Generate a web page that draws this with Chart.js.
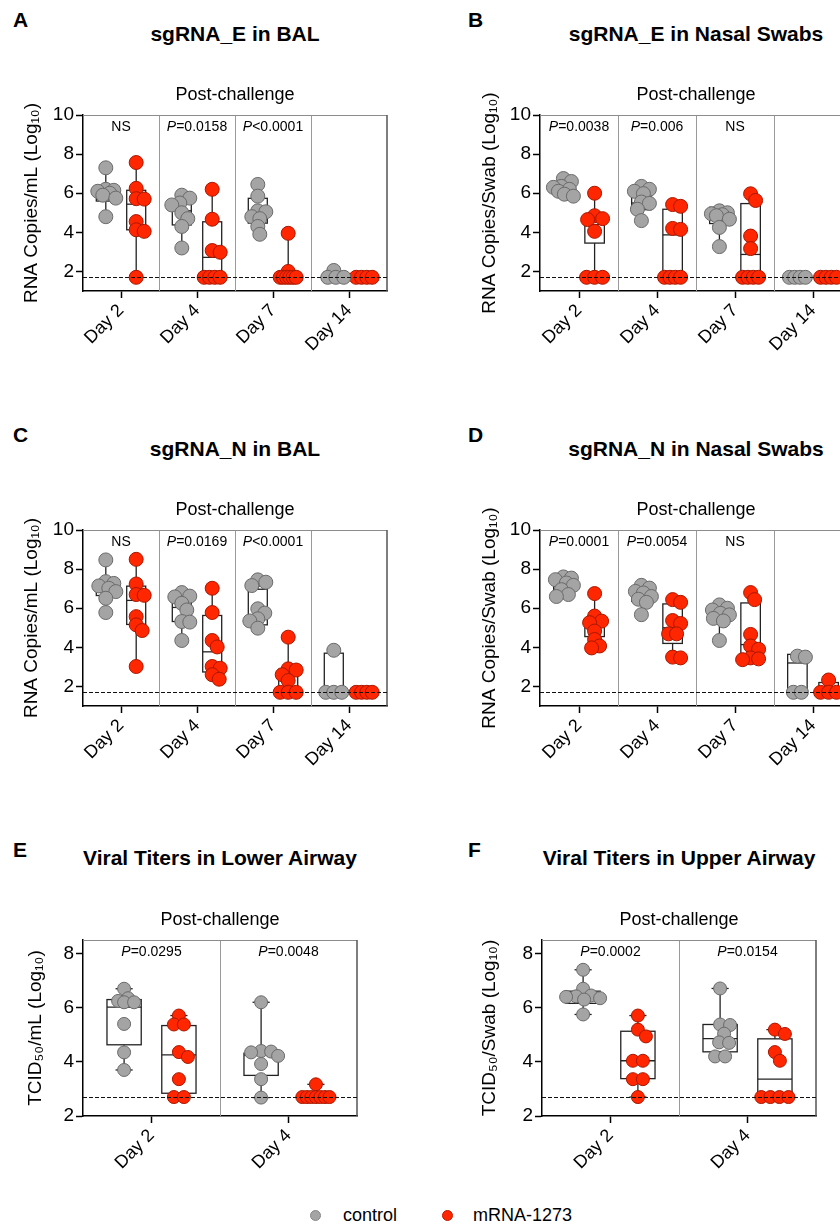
<!DOCTYPE html>
<html>
<head>
<meta charset="utf-8">
<script src="https://cdn.jsdelivr.net/npm/chart.js@4.4.1/dist/chart.umd.min.js"></script>
<style>
html, body { margin: 0; padding: 0; background: #fff; overflow: hidden; width: 840px; height: 1225px; }
body { position: relative; font-family: "Liberation Sans", Arial, sans-serif; color: #000; }
.abs { position: absolute; }
.letter { font-weight: bold; font-size: 21px; line-height: 24px; }
.title { font-weight: bold; font-size: 21px; line-height: 24px; text-align: center; white-space: nowrap; }
canvas { position: absolute; }
.dot { position: absolute; width: 10px; height: 10px; border-radius: 50%; }
.legtxt { position: absolute; font-size: 18px; line-height: 22px; white-space: nowrap; }
</style>
</head>
<body>
<div class="abs letter" style="left:13px;top:8px">A</div>
<div class="abs title" style="left:83px;width:304px;top:22px">sgRNA_E in BAL</div>
<canvas id="chartA" width="420" height="310" style="left:0;top:60px"></canvas>

<div class="abs letter" style="left:468px;top:8px">B</div>
<div class="abs title" style="left:540px;width:312px;top:22px">sgRNA_E in Nasal Swabs</div>
<canvas id="chartB" width="440" height="310" style="left:420px;top:60px"></canvas>

<div class="abs letter" style="left:13px;top:423px">C</div>
<div class="abs title" style="left:83px;width:304px;top:437px">sgRNA_N in BAL</div>
<canvas id="chartC" width="420" height="310" style="left:0;top:475px"></canvas>

<div class="abs letter" style="left:468px;top:423px">D</div>
<div class="abs title" style="left:540px;width:312px;top:437px">sgRNA_N in Nasal Swabs</div>
<canvas id="chartD" width="440" height="310" style="left:420px;top:475px"></canvas>

<div class="abs letter" style="left:13px;top:838px">E</div>
<div class="abs title" style="left:83px;width:274px;top:846px">Viral Titers in Lower Airway</div>
<canvas id="chartE" width="420" height="300" style="left:0;top:885px"></canvas>

<div class="abs letter" style="left:468px;top:838px">F</div>
<div class="abs title" style="left:542px;width:274px;top:846px">Viral Titers in Upper Airway</div>
<canvas id="chartF" width="420" height="300" style="left:420px;top:885px"></canvas>

<div class="dot" style="left:310px;top:1210px;background:#a4a4a4;border:1px solid #888;width:9px;height:9px"></div>
<div class="legtxt" style="left:343px;top:1204px">control</div>
<div class="dot" style="left:442px;top:1210px;background:#ff2600;border:1px solid #c01a00;width:9px;height:9px"></div>
<div class="legtxt" style="left:473px;top:1204px">mRNA-1273</div>

<script>
var FONT = '"Liberation Sans", Arial, sans-serif';
Chart.defaults.font.family = FONT;

var daysAll = ['Day 2', 'Day 4', 'Day 7', 'Day 14'];
var daysEarly = ['Day 2', 'Day 4'];
var ticksRna = [2, 4, 6, 8, 10];
var ticksTcid = [2, 4, 6, 8];
var lodRna = 1.7;
var lodTcid = 2.7;

// A - sgRNA_E in BAL
var balEControl = [
    [7.3, 6.2, 6.15, 6.1, 6.0, 5.9, 5.75, 4.8],
    [5.9, 5.75, 5.5, 5.4, 5.0, 4.7, 4.3, 3.2],
    [6.45, 5.85, 5.1, 5.05, 4.8, 4.7, 4.3, 3.9],
    [2.05, 1.7, 1.7, 1.7]
];
var balEMrna = [
    [7.57, 6.25, 5.72, 5.7, 4.55, 4.13, 4.05, 1.7],
    [6.2, 4.67, 3.07, 2.98, 1.7, 1.7, 1.7, 1.7],
    [3.95, 2.0, 1.7, 1.7, 1.7, 1.7, 1.7, 1.7],
    [1.7, 1.7, 1.7, 1.7]
];
// box = [q1, median, q3]
var balEControlBox = [[5.6, 6.05, 6.37], [4.38, 5.1, 5.6], [4.47, 4.9, 5.74], [1.7, 1.7, 1.97]];
var balEMrnaBox = [[4.13, 5.44, 6.15], [1.7, 2.72, 4.54], [1.7, 1.7, 1.88], [1.7, 1.7, 1.7]];
var balEP = ['NS', 'P=0.0158', 'P<0.0001', ''];

// B - sgRNA_E in nasal swabs
var nasEControl = [
    [6.75, 6.6, 6.35, 6.3, 6.2, 6.1, 5.95, 5.85],
    [6.35, 6.2, 6.1, 5.98, 5.55, 5.48, 5.18, 4.6],
    [5.1, 5.0, 4.95, 4.9, 4.85, 4.67, 4.25, 3.27],
    [1.7, 1.7, 1.7, 1.7]
];
var nasEMrna = [
    [6.0, 4.85, 4.7, 4.65, 4.05, 1.7, 1.7, 1.7],
    [5.42, 5.33, 4.2, 4.15, 1.7, 1.7, 1.7, 1.7],
    [5.97, 5.63, 3.81, 3.17, 1.7, 1.7, 1.7, 1.7],
    [1.7, 1.7, 1.7, 1.7]
];
var nasEControlBox = [[6.1, 6.25, 6.42], [5.16, 5.5, 6.0], [4.45, 4.85, 5.28], [1.7, 1.7, 1.7]];
var nasEMrnaBox = [[3.45, 4.4, 4.75], [1.7, 3.87, 5.18], [1.7, 2.87, 5.47], [1.7, 1.7, 1.7]];
var nasEP = ['P=0.0038', 'P=0.006', 'NS', ''];

// C - sgRNA_N in BAL
var balNControl = [
    [8.47, 7.36, 7.27, 7.14, 7.02, 6.85, 6.51, 5.78],
    [6.8, 6.62, 6.58, 6.25, 5.91, 5.32, 5.29, 4.35],
    [7.45, 7.33, 7.16, 5.97, 5.75, 5.46, 5.35, 4.98],
    [3.85, 1.7, 1.7, 1.7]
];
var balNMrna = [
    [8.5, 7.24, 6.7, 6.66, 5.57, 5.15, 4.86, 3.02],
    [7.02, 5.78, 4.35, 4.02, 3.02, 2.93, 2.6, 2.37],
    [4.52, 2.9, 2.84, 2.6, 2.3, 1.7, 1.7, 1.7],
    [1.7, 1.7, 1.7, 1.7]
];
var balNControlBox = [[6.65, 7.0, 7.28], [5.32, 6.04, 6.56], [5.15, 5.6, 6.97], [1.7, 1.7, 3.7]];
var balNMrnaBox = [[5.17, 6.4, 7.13], [2.74, 3.77, 5.63], [1.72, 2.55, 2.88], [1.7, 1.7, 1.7]];
var balNP = ['NS', 'P=0.0169', 'P<0.0001', ''];

// D - sgRNA_N in nasal swabs
var nasNControl = [
    [7.6, 7.54, 7.46, 7.29, 7.17, 6.95, 6.7, 6.6],
    [7.17, 7.03, 6.86, 6.78, 6.6, 6.46, 6.3, 5.67],
    [6.17, 6.0, 5.91, 5.74, 5.66, 5.48, 5.35, 4.35],
    [3.55, 3.5, 1.7, 1.7]
];
var nasNMrna = [
    [6.75, 5.6, 5.34, 5.26, 4.83, 4.4, 4.07, 3.97],
    [6.44, 6.3, 5.37, 5.22, 4.69, 4.69, 3.5, 3.46],
    [6.8, 6.44, 4.66, 4.07, 3.9, 3.46, 3.41, 3.37],
    [2.33, 1.7, 1.7, 1.7]
];
var nasNControlBox = [[6.92, 7.17, 7.4], [6.35, 6.64, 6.95], [5.42, 5.82, 5.95], [1.7, 3.2, 3.64]];
var nasNMrnaBox = [[4.55, 5.2, 5.47], [4.2, 5.0, 6.22], [3.64, 4.14, 6.27], [1.7, 1.7, 2.2]];
var nasNP = ['P=0.0001', 'P=0.0054', 'NS', ''];

// E - TCID50 lower airway
var lowerControl = [
    [6.7, 6.35, 6.25, 6.2, 6.2, 5.4, 4.35, 3.7],
    [6.2, 4.4, 4.38, 4.35, 4.22, 3.92, 3.36, 2.68]
];
var lowerMrna = [
    [5.71, 5.38, 5.38, 4.36, 4.18, 3.36, 2.7, 2.7],
    [3.17, 2.7, 2.7, 2.7, 2.7, 2.7, 2.7, 2.7]
];
var lowerControlBox = [[4.63, 6.02, 6.3], [3.5, 4.26, 4.32]];
var lowerMrnaBox = [[2.84, 4.26, 5.34], [2.7, 2.7, 2.7]];
var lowerP = ['P=0.0295', 'P=0.0048'];

// F - TCID50 upper airway
var upperControl = [
    [7.4, 6.7, 6.45, 6.42, 6.4, 6.35, 6.3, 5.75],
    [6.71, 5.38, 5.36, 5.04, 4.72, 4.7, 4.2, 4.2]
];
var upperMrna = [
    [5.71, 5.19, 4.94, 4.04, 4.04, 3.36, 3.36, 2.7],
    [5.19, 5.03, 4.36, 4.04, 2.7, 2.7, 2.7, 2.7]
];
var upperControlBox = [[6.16, 6.37, 6.61], [4.37, 4.86, 5.38]];
var upperMrnaBox = [[3.38, 4.04, 5.13], [2.7, 3.36, 4.85]];
var upperP = ['P=0.0002', 'P=0.0154'];

// spreads tied / close values sideways (pixel offsets), kept within +-half px
function swarm(values, pxY, minDist, half) {
    var order = values.map(function (v, i) { return i; })
        .sort(function (a, b) { return values[b] - values[a]; });
    var placed = [];
    var offs = new Array(values.length);
    var k = 0;
    while (k < order.length) {
        var v = values[order[k]];
        var grp = [];
        while (k < order.length && values[order[k]] === v) { grp.push(order[k]); k++; }
        var y = v * pxY;
        var m = grp.length;
        var d = m > 1 ? Math.min(minDist, 1.6 * half / (m - 1)) : 0;
        var rowHalf = (m - 1) / 2 * d;
        var best = 0, bestScore = -1;
        for (var s = 0; s < 60; s++) {
            var cand = (s % 2 ? 1 : -1) * Math.ceil(s / 2);
            if (Math.abs(cand) + rowHalf > half) continue;
            var score = Infinity;
            for (var j = 0; j < m; j++) {
                var x = cand + (j - (m - 1) / 2) * d;
                placed.forEach(function (p) {
                    score = Math.min(score, Math.hypot(p.x - x, p.y - y));
                });
            }
            if (score >= minDist) { best = cand; break; }
            if (score > bestScore) { bestScore = score; best = cand; }
        }
        grp.forEach(function (idx, j) {
            var x = best + (j - (m - 1) / 2) * d;
            offs[idx] = x;
            placed.push({ x: x, y: y });
        });
    }
    return offs;
}

function line(ctx, x1, y1, x2, y2) {
    ctx.beginPath();
    ctx.moveTo(x1, y1);
    ctx.lineTo(x2, y2);
    ctx.stroke();
}

function makePanel(id, p) {
    var n = p.days.length;
    var groups = [
        { values: p.control, boxes: p.controlBox, shift: -0.2, fill: '#a4a4a4', edge: '#6a6a6a' },
        { values: p.mrna, boxes: p.mrnaBox, shift: 0.2, fill: '#ff2600', edge: '#a81800' }
    ];
    var datasets = groups.map(function (g) {
        var pts = [];
        g.values.forEach(function (vals, i) {
            vals.forEach(function (v) { pts.push({ x: i + g.shift, y: v }); });
        });
        return {
            data: pts,
            backgroundColor: g.fill,
            borderColor: g.edge,
            borderWidth: 1,
            pointRadius: p.radius,
            pointHoverRadius: p.radius
        };
    });

    var marks = {
        id: 'marks',
        beforeDatasetsDraw: function (c) {
            var ctx = c.ctx, a = c.chartArea, xs = c.scales.x, ys = c.scales.y;
            ctx.save();
            ctx.strokeStyle = '#9a9a9a';
            ctx.lineWidth = 1;
            for (var i = 0; i < n - 1; i++) {
                var sx = Math.round(xs.getPixelForValue(i + 0.5)) + 0.5;
                line(ctx, sx, a.top, sx, a.bottom);
            }
            ctx.strokeStyle = '#8c8c8c';
            line(ctx, a.left, a.top + 0.5, a.right, a.top + 0.5);
            ctx.strokeStyle = '#555';
            ctx.lineWidth = 1.5;
            line(ctx, a.right, a.top, a.right, a.bottom);

            ctx.strokeStyle = '#222';
            ctx.lineWidth = 1.3;
            groups.forEach(function (g) {
                g.boxes.forEach(function (st, i) {
                    var vals = g.values[i];
                    var lo = ys.getPixelForValue(Math.min.apply(null, vals));
                    var hi = ys.getPixelForValue(Math.max.apply(null, vals));
                    var cx = xs.getPixelForValue(i + g.shift);
                    var hw = xs.getPixelForValue(0.125) - xs.getPixelForValue(0);
                    var y1 = ys.getPixelForValue(st[0]);
                    var ym = ys.getPixelForValue(st[1]);
                    var y3 = ys.getPixelForValue(st[2]);
                    line(ctx, cx, hi, cx, y3);
                    line(ctx, cx, y1, cx, lo);
                    line(ctx, cx - hw / 2, hi, cx + hw / 2, hi);
                    line(ctx, cx - hw / 2, lo, cx + hw / 2, lo);
                    ctx.strokeRect(cx - hw, y3, 2 * hw, y1 - y3);
                    line(ctx, cx - hw, ym, cx + hw, ym);
                });
            });
            ctx.restore();
        },
        afterDatasetsDraw: function (c) {
            var ctx = c.ctx, a = c.chartArea, ys = c.scales.y;
            var y = Math.round(ys.getPixelForValue(p.lod)) + 0.5;
            ctx.save();
            ctx.strokeStyle = '#111';
            ctx.lineWidth = 1;
            ctx.setLineDash([4, 2]);
            line(ctx, a.left, y, a.right, y);
            ctx.restore();
        },
        afterDraw: function (c) {
            var ctx = c.ctx, a = c.chartArea, xs = c.scales.x;
            ctx.save();
            ctx.fillStyle = '#000';
            ctx.textBaseline = 'middle';
            ctx.textAlign = 'center';
            ctx.font = '18px ' + FONT;
            ctx.fillText('Post-challenge', (a.left + a.right) / 2, a.top - 20);
            p.pvals.forEach(function (t, i) {
                if (!t) return;
                var cx = xs.getPixelForValue(i);
                var y = a.top + 12;
                if (t.charAt(0) === 'P') {
                    var rest = t.slice(1);
                    ctx.font = 'italic 14px ' + FONT;
                    var w1 = ctx.measureText('P').width;
                    ctx.font = '14px ' + FONT;
                    var w2 = ctx.measureText(rest).width;
                    var x0 = cx - (w1 + w2) / 2;
                    ctx.textAlign = 'left';
                    ctx.font = 'italic 14px ' + FONT;
                    ctx.fillText('P', x0, y);
                    ctx.font = '14px ' + FONT;
                    ctx.fillText(rest, x0 + w1, y);
                } else {
                    ctx.textAlign = 'center';
                    ctx.font = '14px ' + FONT;
                    ctx.fillText(t, cx, y);
                }
            });
            ctx.restore();
        }
    };

    var chart = new Chart(document.getElementById(id), {
        type: 'scatter',
        data: { datasets: datasets },
        options: {
            responsive: false,
            animation: false,
            events: [],
            layout: { padding: { top: 55, right: p.padRight, left: 0, bottom: 0 } },
            plugins: { legend: { display: false }, tooltip: { enabled: false } },
            scales: {
                x: {
                    type: 'linear',
                    min: -0.5,
                    max: n - 0.5,
                    afterBuildTicks: function (s) {
                        s.ticks = p.days.map(function (d, i) { return { value: i }; });
                    },
                    afterFit: function (s) { s.height = p.xAxisHeight; },
                    ticks: {
                        autoSkip: false,
                        minRotation: 45,
                        maxRotation: 45,
                        padding: 2,
                        color: '#000',
                        font: { size: 18 },
                        callback: function (v) { return p.days[Math.round(v)]; }
                    },
                    grid: { drawOnChartArea: false, drawTicks: true, tickLength: 7, tickColor: '#000', tickWidth: 1.5 },
                    border: { color: '#000', width: 1.5 }
                },
                y: {
                    min: p.yMin,
                    max: p.yMax,
                    afterBuildTicks: function (s) {
                        s.ticks = p.yTicks.map(function (v) { return { value: v }; });
                    },
                    afterFit: function (s) { s.width = p.yAxisWidth; },
                    ticks: { padding: 2, color: '#000', font: { size: 19 } },
                    grid: { drawOnChartArea: false, drawTicks: true, tickLength: 7, tickColor: '#000', tickWidth: 1.5 },
                    border: { color: '#000', width: 1.5 },
                    title: {
                        display: true,
                        text: p.yTitle,
                        color: '#000',
                        font: { size: 19 },
                        padding: { top: p.titlePad, bottom: 0 }
                    }
                }
            }
        },
        plugins: [marks]
    });

    // spread overlapping points sideways within each group
    var xs = chart.scales.x, ys = chart.scales.y;
    var pxX = xs.getPixelForValue(1) - xs.getPixelForValue(0);
    var pxY = ys.getPixelForValue(0) - ys.getPixelForValue(1);
    groups.forEach(function (g, gi) {
        var k = 0;
        g.values.forEach(function (vals, i) {
            var offs = swarm(vals, pxY, p.minDist, p.spread);
            offs.forEach(function (o) {
                chart.data.datasets[gi].data[k++].x = i + g.shift + o / pxX;
            });
        });
    });
    chart.update('none');
    return chart;
}

var rnaLeft = { days: daysAll, yMin: 1, yMax: 10, yTicks: ticksRna, lod: lodRna, radius: 7, minDist: 8, spread: 10,
    padRight: 33, yAxisWidth: 83, xAxisHeight: 79, titlePad: 20 };
var rnaRight = { days: daysAll, yMin: 1, yMax: 10, yTicks: ticksRna, lod: lodRna, radius: 7, minDist: 8, spread: 10,
    padRight: 8, yAxisWidth: 120, xAxisHeight: 79, titlePad: 58 };

function extend(base, more) {
    var o = {};
    Object.keys(base).forEach(function (k) { o[k] = base[k]; });
    Object.keys(more).forEach(function (k) { o[k] = more[k]; });
    return o;
}

makePanel('chartA', extend(rnaLeft, {
    control: balEControl, mrna: balEMrna, controlBox: balEControlBox, mrnaBox: balEMrnaBox,
    pvals: balEP, yTitle: 'RNA Copies/mL (Log\u2081\u2080)'
}));
makePanel('chartB', extend(rnaRight, {
    control: nasEControl, mrna: nasEMrna, controlBox: nasEControlBox, mrnaBox: nasEMrnaBox,
    pvals: nasEP, yTitle: 'RNA Copies/Swab (Log\u2081\u2080)'
}));
makePanel('chartC', extend(rnaLeft, {
    control: balNControl, mrna: balNMrna, controlBox: balNControlBox, mrnaBox: balNMrnaBox,
    pvals: balNP, yTitle: 'RNA Copies/mL (Log\u2081\u2080)'
}));
makePanel('chartD', extend(rnaRight, {
    control: nasNControl, mrna: nasNMrna, controlBox: nasNControlBox, mrnaBox: nasNMrnaBox,
    pvals: nasNP, yTitle: 'RNA Copies/Swab (Log\u2081\u2080)'
}));
makePanel('chartE', {
    days: daysEarly, yMin: 2, yMax: 8.5, yTicks: ticksTcid, lod: lodTcid, radius: 6.5, minDist: 10, spread: 17,
    padRight: 63, yAxisWidth: 83, xAxisHeight: 69, titlePad: 24,
    control: lowerControl, mrna: lowerMrna, controlBox: lowerControlBox, mrnaBox: lowerMrnaBox,
    pvals: lowerP, yTitle: 'TCID\u2085\u2080/mL (Log\u2081\u2080)'
});
makePanel('chartF', {
    days: daysEarly, yMin: 2, yMax: 8.5, yTicks: ticksTcid, lod: lodTcid, radius: 6.5, minDist: 10, spread: 17,
    padRight: 24, yAxisWidth: 122, xAxisHeight: 69, titlePad: 58,
    control: upperControl, mrna: upperMrna, controlBox: upperControlBox, mrnaBox: upperMrnaBox,
    pvals: upperP, yTitle: 'TCID\u2085\u2080/Swab (Log\u2081\u2080)'
});
</script>
</body>
</html>
